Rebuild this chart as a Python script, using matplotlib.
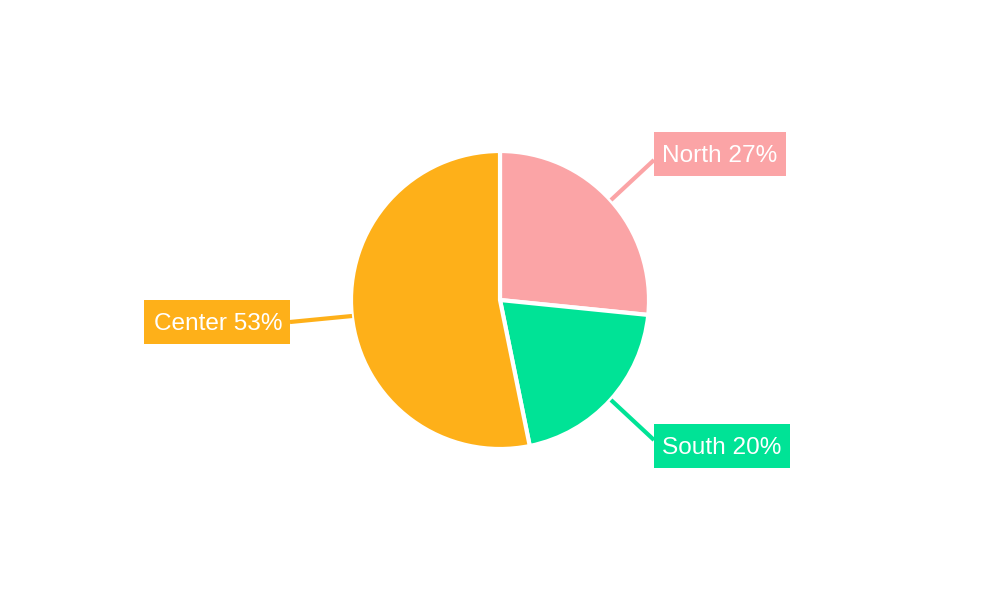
import numpy as np
import matplotlib
matplotlib.use("Agg")
import matplotlib.pyplot as plt

labels = ["North 27%", "South 20%", "Center 53%"]
values = [26.6, 20.2, 53.2]
colors = ["#FBA4A6", "#00E396", "#FEB019"]

# label box corners in pixels: left, right, top, bottom
boxes = [(654, 786, 132, 176), (654, 790, 424, 468), (144, 290, 300, 344)]
text_left = [662, 662, 154]

fig = plt.figure(figsize=(10, 6), dpi=100)
plt.rcParams['font.family'] = ['Liberation Sans', 'DejaVu Sans']

# pie axes, circle centred on (500, 300) radius 149 px
ax = fig.add_axes([351/1000, (600-449)/600, 298/1000, 298/600])
wedges, _ = ax.pie(values, colors=colors, startangle=90, counterclock=False,
                   radius=1.0, wedgeprops=dict(edgecolor="white", linewidth=3))
ax.set_xlim(-1, 1)
ax.set_ylim(-1, 1)

# overlay in pixel coordinates for the callouts
ov = fig.add_axes([0, 0, 1, 1])
ov.set_xlim(0, 1000)
ov.set_ylim(600, 0)
ov.axis("off")
ov.patch.set_alpha(0)

leaders = [((611, 200), (654, 160)), ((611, 400), (654, 440)), ((352, 316), (290, 322))]

for name, col, box, tx, line in zip(labels, colors, boxes, text_left, leaders):
    (x0, y0), (x1, y1) = line
    ov.plot([x0, x1], [y0, y1], color=col, lw=3, solid_capstyle="butt")
    l, r, t, b = box
    ov.fill([l, r, r, l], [t, t, b, b], color=col, lw=0)
    ov.text(tx, (t + b) / 2 + 2.5, name, color="white",
            fontsize=17.6, ha="left", va="center")

fig.savefig("out.png", dpi=100, facecolor="white")
